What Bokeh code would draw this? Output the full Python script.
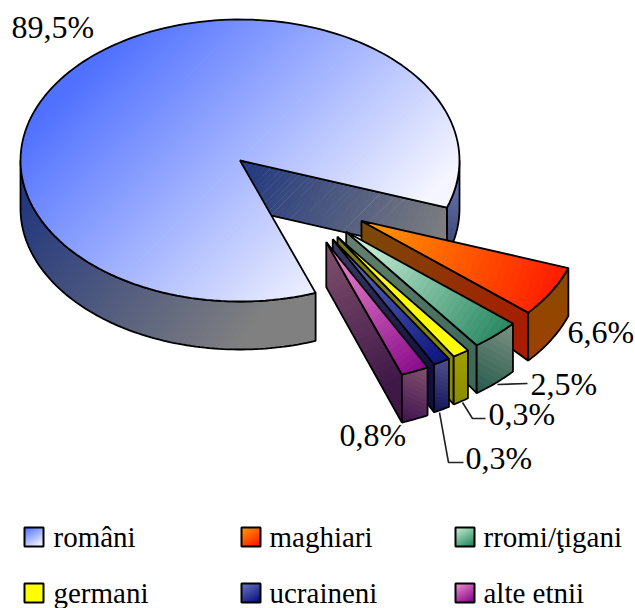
import math
from bokeh.plotting import figure
from bokeh.models import Range1d
from bokeh.core.properties import value
from bokeh.embed import file_html
from bokeh.resources import INLINE

# ---- data ----
categories = ["români", "maghiari", "rromi/ţigani", "germani", "ucraineni", "alte etnii"]
percents = [89.5, 6.6, 2.5, 0.3, 0.3, 0.8]
pct_labels = ["89,5%", "6,6%", "2,5%", "0,3%", "0,3%", "0,8%"]

# ---- style: (top start, top end, side-wall start, side-wall end, rim start, rim end) ----
STYLE = {
    "maghiari": ("#ff9a00", "#ff1e00", "#7a4a08", "#a81c00", "#8a4a00", "#a04000"),
    "rromi/ţigani": ("#d8f8e4", "#2c8a64", "#66806f", "#3d6a58", "#7a9080", "#20584a"),
    "germani": ("#ffff00", "#ffff00", "#77771a", "#88880a", "#a0a000", "#8a8a00"),
    "ucraineni": ("#6a78c0", "#0c1480", "#3a3a60", "#101040", "#50508c", "#101058"),
    "alte etnii": ("#f090d0", "#8a0c8c", "#80506c", "#401848", "#80506c", "#3c1050"),
}
SWATCH = ["#5070ff", "#ff9a00", "#c8f0d4", "#ffff00", "#6a78c0", "#f090d0"]
SWATCH_END = ["#f0f2ff", "#ff1e00", "#2c8a64", "#ffff00", "#0c1480", "#8a0c8c"]

# ---- layout (page pixels) ----
CX, CY, RX, RY, DEPTH = 239.5, 160.0, 219.5, 141.0, 48.0
START_ANGLE = 19.5
SPAN_K = 8.2            # picture's angular span per sqrt(percent)
EXPLODE = 0.70
APEX_DEPTH = [20, 32, 38, 41, 45]
FONT = "Liberation Serif"
BASE_SHIFT = -11        # alphabetic baseline correction for the text glyphs

polys = []


def add(xs, ys, fill=None, line=None, lw=0.0):
    polys.append(dict(x=list(xs), y=list(ys), f=fill or "#000000", fa=1.0 if fill else 0.0,
                      l=line or "#000000", la=1.0 if line else 0.0, w=lw))


def clip(pts, p0, d, tmin):
    out = []
    n = len(pts)
    for i in range(n):
        a, b = pts[i], pts[(i + 1) % n]
        ta = (a[0] - p0[0]) * d[0] + (a[1] - p0[1]) * d[1] - tmin
        tb = (b[0] - p0[0]) * d[0] + (b[1] - p0[1]) * d[1] - tmin
        if ta >= 0:
            out.append(a)
        if (ta >= 0) != (tb >= 0):
            s = ta / (ta - tb)
            out.append((a[0] + s * (b[0] - a[0]), a[1] + s * (b[1] - a[1])))
    return out


def rgb(h):
    return tuple(int(h[i:i + 2], 16) for i in (1, 3, 5))


def gradient(pts, c0, c1, p0, p1, n=40):
    dx, dy = p1[0] - p0[0], p1[1] - p0[1]
    L = math.hypot(dx, dy)
    d = (dx / L, dy / L)
    a, b = rgb(c0), rgb(c1)
    for i in range(n + 1):
        t = i / n
        col = "#%02x%02x%02x" % tuple(round(a[k] + (b[k] - a[k]) * t) for k in range(3))
        part = pts if i == 0 else clip(pts, p0, d, t * L)
        if len(part) >= 3:
            add([q[0] for q in part], [q[1] for q in part], fill=col)


def outline(pts, lw=1.8):
    add([q[0] for q in pts], [q[1] for q in pts], line="#000000", lw=lw)


def arc(cx, cy, a0, a1, n=60):
    return [(cx + RX * math.cos(math.radians(a0 + (a1 - a0) * i / n)),
             cy + RY * math.sin(math.radians(a0 + (a1 - a0) * i / n))) for i in range(n + 1)]


def down(pts, h):
    return [(q[0], q[1] + h) for q in pts]


small = percents[1:]
edges = [START_ANGLE]
for v in small:
    edges.append(edges[-1] + SPAN_K * math.sqrt(v))
END_ANGLE = edges[-1]

# ---- main slice ----
rim = arc(CX, CY, 0, START_ANGLE, 20)
gradient(rim + down(rim, DEPTH)[::-1], "#6a78b8", "#38406a", (459, 170), (445, 250), 14)
outline(rim + down(rim, DEPTH)[::-1])
c = (CX, CY)
e0 = arc(CX, CY, START_ANGLE, START_ANGLE, 1)[0]
wall = [c, e0, (e0[0], e0[1] + DEPTH), (c[0], c[1] + DEPTH)]
gradient(wall, "#263c80", "#808080", (250, 165), (440, 250))
outline(wall)
front = arc(CX, CY, END_ANGLE, 180, 90)
fw = front + down(front, DEPTH)[::-1]
gradient(fw, "#24387e", "#808080", (30, 190), (240, 340), 60)
outline(fw)
top = [c] + arc(CX, CY, END_ANGLE, 360 + START_ANGLE, 160)
gradient(top, "#5070ff", "#f4f5ff", (100, 50), (335, 285), 80)
outline(top)

# ---- exploded slices ----
for i, name in enumerate(categories[1:]):
    a0, a1 = edges[i], edges[i + 1]
    mid = (a0 + a1) / 2
    direction = math.radians(37.5 + 0.5 * (mid - 29.5))
    ax = CX + EXPLODE * RX * math.cos(direction)
    ay = CY + EXPLODE * RY * math.sin(direction)
    o = arc(ax, ay, a0, a1, 16)
    st = STYLE[name]
    h0 = APEX_DEPTH[i]
    side = [(ax, ay), o[-1], (o[-1][0], o[-1][1] + DEPTH), (ax, ay + h0)]
    gradient(side, st[2], st[3], (ax, ay), o[-1], 24)
    outline(side)
    w = o + down(o, DEPTH)[::-1]
    gradient(w, st[4], st[5], o[0], down(o, DEPTH)[-1], 14)
    outline(w)
    t = [(ax, ay)] + o
    gradient(t, st[0], st[1], (ax, ay), ((o[0][0] + o[-1][0]) / 2, (o[0][1] + o[-1][1]) / 2), 30)
    outline(t)

# ---- legend swatches ----
LEG_X = [24, 241, 455]
LEG_TX = [53, 269, 483]
LEG_Y = [527, 583]
SW = 19
for i, name in enumerate(categories):
    x = LEG_X[i % 3]
    y = LEG_Y[i // 3]
    sq = [(x, y), (x + SW, y), (x + SW, y + SW), (x, y + SW)]
    gradient(sq, SWATCH[i], SWATCH_END[i], (x, y), (x + SW * 0.6, y + SW), 14)
    outline(sq, 2.0)

p = figure(width=635, height=608, x_range=Range1d(0, 635), y_range=Range1d(608, 0),
           output_backend="svg", toolbar_location=None, min_border=0)
p.axis.visible = False
p.grid.visible = False
p.outline_line_color = None
p.background_fill_color = "white"

p.patches(xs=[q["x"] for q in polys], ys=[q["y"] for q in polys],
          fill_color=[q["f"] for q in polys], fill_alpha=[q["fa"] for q in polys],
          line_color=[q["l"] for q in polys], line_alpha=[q["la"] for q in polys],
          line_width=[q["w"] for q in polys])

LEAD_X = [[497, 527], [462, 472, 485], [439, 448, 463]]
LEAD_Y = [[384, 383], [402, 418, 418], [412, 462, 462]]
p.multi_line(LEAD_X, LEAD_Y, line_color="#222222", line_width=1.6)

LAB_X = [11, 567, 530, 488, 465, 339]
LAB_Y = [37, 342, 394, 424, 468, 445]
p.text(x=LAB_X, y=[v + BASE_SHIFT for v in LAB_Y], text=pct_labels, text_font=value(FONT), text_font_size="32px",
       text_color="#000000", text_align="left", text_baseline="alphabetic")

p.text(x=[LEG_TX[i % 3] for i in range(6)], y=[LEG_Y[i // 3] + 20 + BASE_SHIFT for i in range(6)], text=categories,
       text_font=value(FONT), text_font_size="29px", text_color="#000000",
       text_align="left", text_baseline="alphabetic")

open("out.html", "w").write(file_html(p, INLINE))
